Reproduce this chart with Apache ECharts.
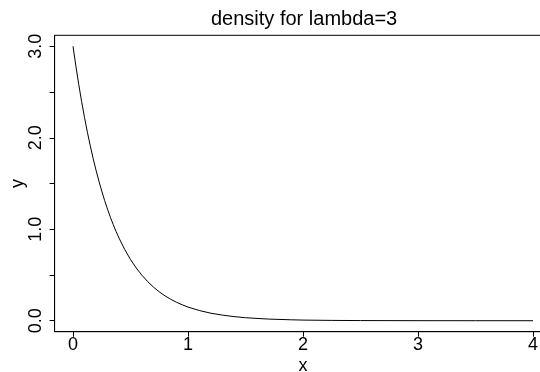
<!DOCTYPE html>
<html>
<head>
<meta charset="utf-8">
<script src="https://cdn.jsdelivr.net/npm/echarts@6/dist/echarts.min.js"></script>
<style>
  html, body { margin: 0; padding: 0; background: #fff; }
  #main { width: 540px; height: 372px; }
</style>
</head>
<body>
<div id="main"></div>
<script>
// values (density for lambda=3)
var xVals = [0, 0.025, 0.05, 0.075, 0.1, 0.125, 0.15, 0.175, 0.2, 0.225, 0.25, 0.275, 0.3, 0.325, 0.35, 0.375, 0.4,
    0.45, 0.5, 0.55, 0.6, 0.65, 0.7, 0.75, 0.8, 0.85, 0.9, 0.95, 1.0,
    1.1, 1.2, 1.3, 1.4, 1.5, 1.6, 1.7, 1.8, 1.9, 2.0, 2.25, 2.5, 3.0, 3.5, 4.0];
var yVals = [3.0, 2.783, 2.582, 2.395, 2.222, 2.061, 1.913, 1.774, 1.646, 1.527, 1.417, 1.314, 1.220, 1.131, 1.050, 0.974, 0.904,
    0.778, 0.669, 0.576, 0.496, 0.427, 0.367, 0.316, 0.272, 0.234, 0.202, 0.174, 0.149,
    0.111, 0.082, 0.061, 0.045, 0.033, 0.025, 0.018, 0.014, 0.010, 0.007, 0.0035, 0.0017, 0.0004, 0.0001, 0.0];
var xTicks = [0, 1, 2, 3, 4];
var yTicks = [0, 0.5, 1, 1.5, 2, 2.5, 3];
var yLabels = [0, 1, 2, 3];

var pts = [];
for (var i = 0; i < xVals.length; i++) {
    pts.push([xVals[i], yVals[i]]);
}

var myChart = echarts.init(document.getElementById('main'));
var fontFam = '"Liberation Sans", Arial, sans-serif';

var option = {
    animation: false,
    title: {
        text: 'density for lambda=3',
        left: 206,
        top: 4,
        textStyle: {
            fontFamily: fontFam,
            fontWeight: 'normal',
            fontSize: 20,
            color: '#000'
        }
    },
    grid: {
        show: true,
        left: 54.6,
        top: 35.3,
        width: 496.8,
        height: 296.4,
        containLabel: false,
        outerBoundsMode: 'none',
        borderColor: '#000',
        borderWidth: 1,
        backgroundColor: 'transparent'
    },
    xAxis: {
        type: 'value',
        min: -0.16,
        max: 4.16,
        name: 'x',
        nameLocation: 'middle',
        nameGap: 25,
        nameMoveOverlap: false,
        nameTextStyle: { fontFamily: fontFam, fontSize: 18, color: '#000' },
        splitLine: { show: false },
        axisLine: { show: true, onZero: false, lineStyle: { color: '#000', width: 1 } },
        axisTick: {
            show: true,
            inside: false,
            length: 5,
            customValues: xTicks,
            lineStyle: { color: '#000', width: 1 }
        },
        axisLabel: {
            customValues: xTicks,
            margin: 4,
            fontFamily: fontFam,
            fontSize: 18,
            color: '#000',
            formatter: function (v) { return String(v); }
        }
    },
    yAxis: {
        type: 'value',
        min: -0.12,
        max: 3.12,
        name: 'y',
        nameLocation: 'middle',
        nameGap: 28,
        nameRotate: 90,
        nameMoveOverlap: false,
        nameTextStyle: { fontFamily: fontFam, fontSize: 18, color: '#000' },
        splitLine: { show: false },
        axisLine: { show: true, onZero: false, lineStyle: { color: '#000', width: 1 } },
        axisTick: {
            show: true,
            inside: false,
            length: 5,
            customValues: yTicks,
            lineStyle: { color: '#000', width: 1 }
        },
        axisLabel: {
            customValues: yLabels,
            rotate: 90,
            margin: 10,
            fontFamily: fontFam,
            fontSize: 18,
            color: '#000',
            formatter: function (v) { return v.toFixed(1); }
        }
    },
    series: [
        {
            type: 'line',
            data: pts,
            showSymbol: false,
            smooth: false,
            lineStyle: { color: '#000', width: 1 }
        }
    ]
};
myChart.setOption(option);
</script>
</body>
</html>
